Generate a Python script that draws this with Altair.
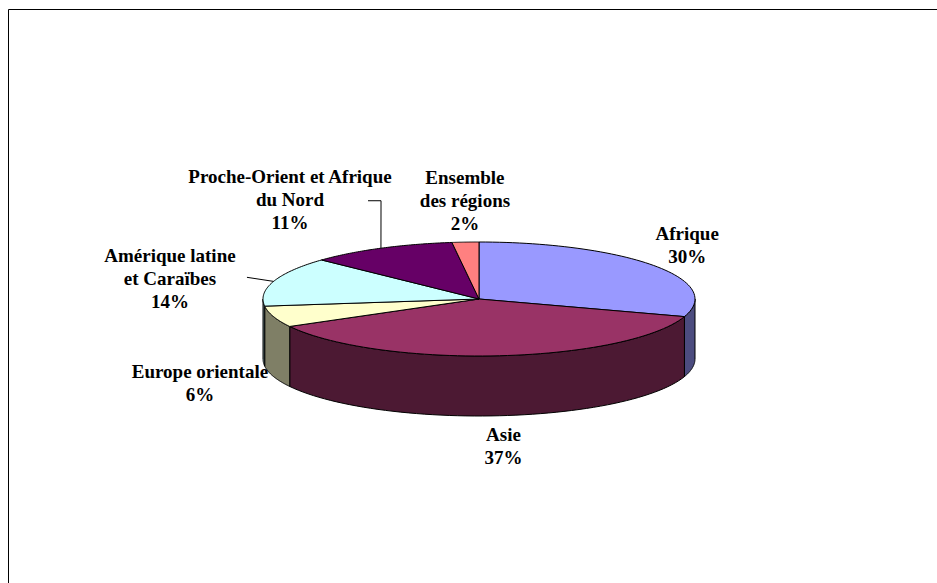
import altair as alt
import pandas as pd

# ---------------- data ----------------
categories = [
    "Afrique",
    "Asie",
    "Europe orientale",
    "Amérique latine et Caraïbes",
    "Proche-Orient et Afrique du Nord",
    "Ensemble des régions",
]
label_lines = [
    "Afrique",
    "Asie",
    "Europe orientale",
    "Amérique latine\net Caraïbes",
    "Proche-Orient et Afrique\ndu Nord",
    "Ensemble\ndes régions",
]
shares = [30, 37, 6, 14, 11, 2]
colors = ["#9999FF", "#993366", "#FFFFCC", "#CCFFFF", "#660066", "#FF8080"]


def darken(hex_color, f=0.5):
    h = hex_color.lstrip("#")
    r, g, b = (int(h[i:i + 2], 16) for i in (0, 2, 4))
    return "#{:02X}{:02X}{:02X}".format(int(r * f), int(g * f), int(b * f))


side_colors = [darken(c) for c in colors]

# ---------------- layout / style ----------------
PAGE_W, PAGE_H = 937, 583
PAD_L, PAD_T = 8, 9
PLOT_W, PLOT_H = PAGE_W - PAD_L, PAGE_H - PAD_T
PIE_X, PIE_Y = 479, 299          # pie centre on the page (px)
RX, RY, DEPTH = 216, 57, 60      # ellipse semi-axes and 3D depth (px)
KX, KY = 1.3, 1.6                # label distance factors
N = 60                           # arc resolution
FONT = "Liberation Serif"
FONT_SIZE = 19
LINE_H = 23

# manual label offsets (px, dy positive = down), as dragged in the original
LABEL_NUDGE = {
    "Afrique": (-19, 0),
    "Asie": (-2, -3.5),
    "Europe orientale": (-12, -4),
    "Amérique latine et Caraïbes": (-42, 8),
    "Proche-Orient et Afrique du Nord": (-61.5, -18),
    "Ensemble des régions": (3.6, -7),
}
# leader line points relative to the label centre (px)
LEADERS = {
    "Amérique latine et Caraïbes": [(77, -1.5), (77, -1.5)],
    "Proche-Orient et Afrique du Nord": [(78, 1), (91, 1)],
}

cx = PIE_X - PAD_L
cy = PIE_Y - PAD_T
x_dom = [-cx / RX, (PLOT_W - cx) / RX]
y_dom = [-(PLOT_H - cy) / RY, cy / RY]
depth_u = DEPTH / RY

df = pd.DataFrame({
    "order": list(range(len(categories))),
    "cat": categories,
    "label": label_lines,
    "value": shares,
    "color": colors,
    "side": side_colors,
    "nx": [LABEL_NUDGE[c][0] for c in categories],
    "ny": [LABEL_NUDGE[c][1] for c in categories],
    "lead": [c in LEADERS for c in categories],
    "l1x": [LEADERS.get(c, [(0, 0), (0, 0)])[0][0] for c in categories],
    "l1y": [LEADERS.get(c, [(0, 0), (0, 0)])[0][1] for c in categories],
    "l2x": [LEADERS.get(c, [(0, 0), (0, 0)])[1][0] for c in categories],
    "l2y": [LEADERS.get(c, [(0, 0), (0, 0)])[1][1] for c in categories],
})

xs = alt.Scale(domain=x_dom, nice=False, zero=False)
ys = alt.Scale(domain=y_dom, nice=False, zero=False)


def with_angles(ch):
    return (
        ch.transform_window(cum="sum(value)", sort=[alt.SortField("order")], frame=[None, 0])
        .transform_joinaggregate(total="sum(value)")
        .transform_calculate(
            t0="2 * PI * (datum.cum - datum.value) / datum.total",
            t1="2 * PI * datum.cum / datum.total",
        )
        .transform_calculate(mid="(datum.t0 + datum.t1) / 2")
    )


base = alt.Chart(df)

# visible side walls (front half of the pie)
walls = (
    with_angles(base)
    .transform_calculate(w0="max(datum.t0, PI / 2)", w1="min(datum.t1, 3 * PI / 2)")
    .transform_filter("datum.w1 > datum.w0")
    .transform_calculate(k=f"sequence(0, {2 * N + 3})")
    .transform_flatten(["k"])
    .transform_calculate(j=f"datum.k == {2 * N + 2} ? 0 : datum.k")
    .transform_calculate(
        ang=f"datum.j <= {N} ? datum.w0 + (datum.w1 - datum.w0) * datum.j / {N}"
            f" : datum.w1 - (datum.w1 - datum.w0) * (datum.j - {N + 1}) / {N}"
    )
    .transform_calculate(
        px="sin(datum.ang)",
        py=f"cos(datum.ang) - (datum.j > {N} ? {depth_u} : 0)",
    )
    .mark_line(stroke="black", strokeWidth=1, strokeJoin="round")
    .encode(
        x=alt.X("px:Q", scale=xs, axis=None),
        y=alt.Y("py:Q", scale=ys, axis=None),
        order=alt.Order("k:Q"),
        detail="cat:N",
        fill=alt.Fill("side:N", scale=None),
    )
)

# top faces of the slices
tops = (
    with_angles(base)
    .transform_calculate(k=f"sequence(0, {N + 3})")
    .transform_flatten(["k"])
    .transform_calculate(
        ang=f"datum.t0 + (datum.t1 - datum.t0) * clamp(datum.k - 1, 0, {N}) / {N}",
        edge=f"datum.k > 0 && datum.k < {N + 2}",
    )
    .transform_calculate(
        px="datum.edge ? sin(datum.ang) : 0",
        py="datum.edge ? cos(datum.ang) : 0",
    )
    .mark_line(stroke="black", strokeWidth=1, strokeJoin="round")
    .encode(
        x=alt.X("px:Q", scale=xs, axis=None),
        y=alt.Y("py:Q", scale=ys, axis=None),
        order=alt.Order("k:Q"),
        detail="cat:N",
        fill=alt.Fill("color:N", scale=None),
    )
)


def with_label_pos(ch):
    return (
        with_angles(ch)
        .transform_calculate(
            txt="datum.label + '\\n' + round(100 * datum.value / datum.total) + '%'"
        )
        .transform_calculate(nl="length(split(datum.txt, '\\n'))")
        .transform_calculate(
            lx=f"{KX} * sin(datum.mid) + datum.nx / {RX}",
            ly=f"{KY} * cos(datum.mid) - (cos(datum.mid) < 0 ? {depth_u} : 0) - datum.ny / {RY}",
        )
        # first-line position so that the whole text block is centred on (lx, ly)
        .transform_calculate(fy=f"datum.ly + (datum.nl - 1) * {LINE_H} / 2 / {RY}")
    )


labels = (
    with_label_pos(base)
    .mark_text(
        font=FONT, fontWeight="bold", fontSize=FONT_SIZE, lineBreak="\n",
        lineHeight=LINE_H, align="center", baseline="middle", color="black",
    )
    .encode(
        x=alt.X("lx:Q", scale=xs, axis=None),
        y=alt.Y("fy:Q", scale=ys, axis=None),
        text="txt:N",
    )
)

leaders = (
    with_label_pos(base)
    .transform_filter("datum.lead")
    .transform_calculate(k="sequence(0, 3)")
    .transform_flatten(["k"])
    .transform_calculate(
        px=f"datum.k == 0 ? datum.lx + datum.l1x / {RX} : datum.k == 1 ? datum.lx + datum.l2x / {RX} : sin(datum.mid)",
        py=f"datum.k == 0 ? datum.ly - datum.l1y / {RY} : datum.k == 1 ? datum.ly - datum.l2y / {RY} : cos(datum.mid)",
    )
    .mark_line(stroke="black", strokeWidth=1)
    .encode(
        x=alt.X("px:Q", scale=xs, axis=None),
        y=alt.Y("py:Q", scale=ys, axis=None),
        order=alt.Order("k:Q"),
        detail="cat:N",
    )
)

frame_src = alt.Chart(pd.DataFrame({"f": [0]}))
frame_top = frame_src.mark_rule(color="black", strokeWidth=1).encode(
    x=alt.value(0.5), x2=alt.value(PLOT_W + 2), y=alt.value(0.5)
)
frame_left = frame_src.mark_rule(color="black", strokeWidth=1).encode(
    x=alt.value(0.5), y=alt.value(0.5), y2=alt.value(PLOT_H + 2)
)

chart = (
    alt.layer(walls, tops, leaders, labels, frame_top, frame_left)
    .properties(
        width=PLOT_W,
        height=PLOT_H,
        autosize=alt.AutoSizeParams(type="none"),
        padding={"left": PAD_L, "top": PAD_T, "right": 0, "bottom": 0},
        background="white",
    )
    .configure_view(stroke=None)
)

chart.save("out.html", embed_options={"renderer": "svg", "actions": False})
